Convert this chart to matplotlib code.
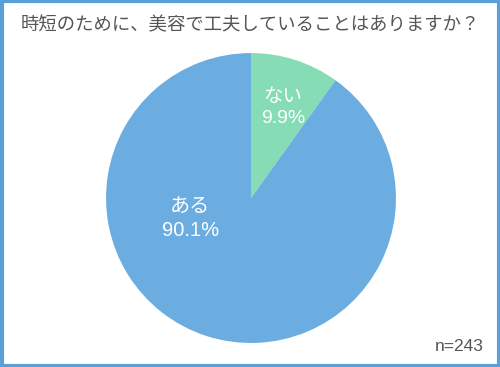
import matplotlib
matplotlib.use("Agg")
import matplotlib.pyplot as plt
from matplotlib.patches import Rectangle

plt.rcParams['font.family'] = ['Liberation Sans', 'Noto Sans CJK JP', 'DejaVu Sans']

title = "時短のために、美容で工夫していることはありますか？"
labels = ["ない", "ある"]
values = [9.9, 90.1]
colors = ["#86dcb5", "#6badE1"]
n_label = "n=243"

fig = plt.figure(figsize=(5, 3.67), dpi=100)
fig.patch.set_facecolor("white")

# blue frame around the whole picture
fig.patches.append(Rectangle((0.003, 0.004), 0.994, 0.992, transform=fig.transFigure,
                             fill=False, edgecolor="#5a9fda", linewidth=3))

ax = fig.add_axes([0.212, 0.0654, 0.58, 0.79])
ax.pie(values, colors=colors, startangle=90, counterclock=False,
       wedgeprops=dict(linewidth=0))
ax.set_xlim(-1, 1)
ax.set_ylim(-1, 1)
ax.set_aspect("equal")

# slice labels
ax.text(0.22, 0.62, f"{labels[0]}\n{values[0]}%", color="white", fontsize=14,
        ha="center", va="center", linespacing=1.35)
ax.text(-0.42, -0.14, f"{labels[1]}\n{values[1]}%", color="white", fontsize=14.5,
        ha="center", va="center", linespacing=1.35)

fig.text(0.5, 0.929, title, ha="center", va="center", fontsize=13.2, color="#555555")
fig.text(0.918, 0.055, n_label, ha="center", va="center", fontsize=12.5, color="#555555")

fig.savefig("out.png", dpi=100)
